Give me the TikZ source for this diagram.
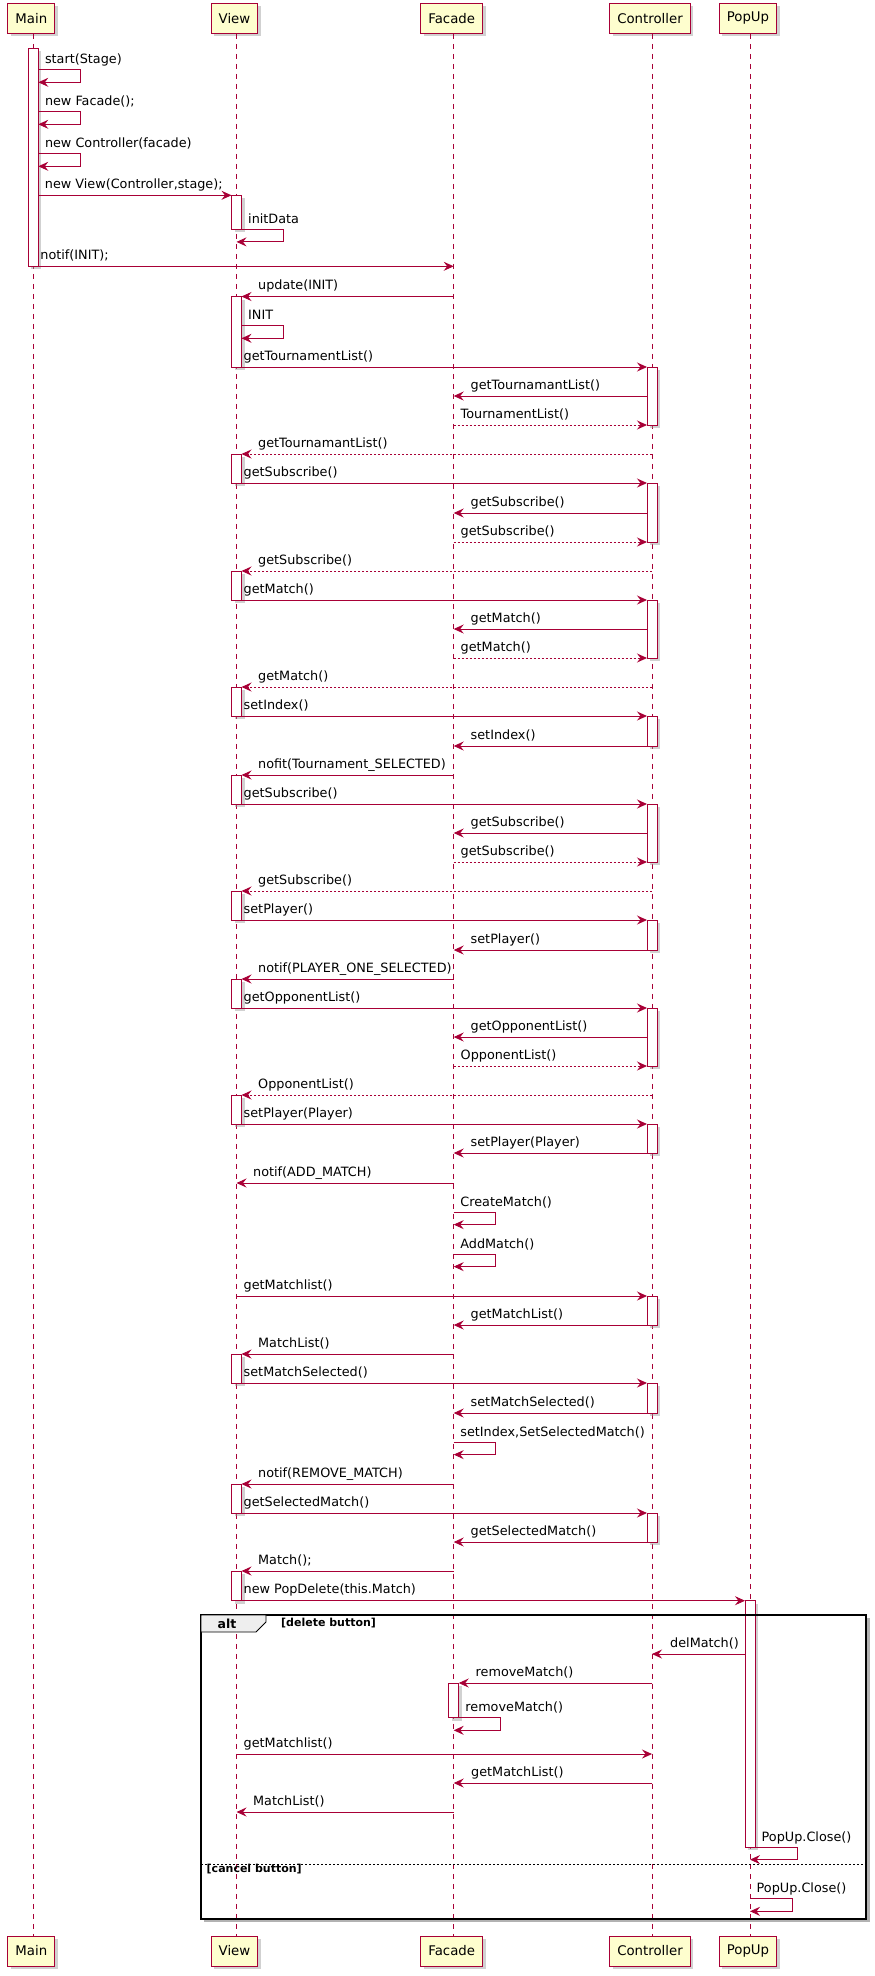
\documentclass[tikz,border=0pt]{standalone}
\usepackage{fontspec}
\setmainfont{DejaVu Sans}
\usetikzlibrary{arrows.meta,shadows}

\definecolor{umlred}{HTML}{A80036}
\definecolor{umlfill}{HTML}{FEFECE}
\definecolor{tabgrey}{HTML}{EEEEEE}

% message between two lifelines: [style]{name}{x from}{x to}{y}{label x}{label}
\newcommand{\callmsg}[7][call]{%
	\coordinate (#2s) at (#3,#5);
	\coordinate (#2e) at (#4,#5);
	\draw[#1] (#2s) -- (#2e);
	\node[lbl] (#2l) at (#6,#5-7) {#7};}
% message to itself: {name}{x out}{x back}{y}{label}
\newcommand{\selfmsg}[5]{%
	\coordinate (#1s) at (#2,#4);
	\coordinate (#1e) at (#3,#4+12.6);
	\draw[call] (#1s) -- ++(42,0) |- (#1e);
	\node[lbl] (#1l) at (#2+6.5,#4-6) {#5};}

\begin{document}
\begin{tikzpicture}[
			x=1pt, y=-1pt,
			partbox/.style={rectangle, draw=umlred, fill=umlfill, line width=1pt, minimum height=30pt, inner xsep=7.5pt, inner ysep=0pt, font=\fontsize{13.3}{16}\selectfont, drop shadow={shadow xshift=3pt, shadow yshift=-3pt, fill=black!40, opacity=0.45}},
			lifeline/.style={draw=umlred, line width=0.8pt, dash pattern=on 5pt off 5pt},
			actbar/.style={draw=umlred, fill=white, line width=0.9pt, drop shadow={shadow xshift=3pt, shadow yshift=-3pt, fill=black!40, opacity=0.45}},
			call/.style={draw=umlred, line width=0.9pt, -{Stealth[length=10pt, width=9pt, inset=3.5pt]}},
			reply/.style={call, dash pattern=on 2pt off 2pt},
			lbl/.style={anchor=base west, inner sep=0pt, font=\fontsize{12.8}{15}\selectfont},
			grouplbl/.style={inner sep=0pt, font=\bfseries\fontsize{11}{13}\selectfont},
			]
			\useasboundingbox (0,0) rectangle (875,1976);

			%Participants
			\node[partbox] (mainTop) at (31.3,18.3)  {Main};
			\node[partbox] (viewTop) at (234.5,18.3) {View};
			\node[partbox] (facTop)  at (451.7,18.3) {Facade};
			\node[partbox] (ctrlTop) at (650,18.3)   {Controller};
			\node[partbox] (popTop)  at (748,18.3)   {PopUp};

			\node[partbox] (mainBot) at (31.3,1951)  {Main};
			\node[partbox] (viewBot) at (234.5,1951) {View};
			\node[partbox] (facBot)  at (451.7,1951) {Facade};
			\node[partbox] (ctrlBot) at (650,1951)   {Controller};
			\node[partbox] (popBot)  at (748,1951)   {PopUp};

			%Lifelines
			\draw[lifeline] ([xshift=2pt]mainTop.south) -- ([xshift=2pt]mainBot.north);
			\draw[lifeline] ([xshift=2pt]viewTop.south) -- ([xshift=2pt]viewBot.north);
			\draw[lifeline] ([xshift=2pt]facTop.south)  -- ([xshift=2pt]facBot.north);
			\draw[lifeline] ([xshift=2pt]ctrlTop.south) -- ([xshift=2pt]ctrlBot.north);
			\draw[lifeline] ([xshift=2pt]popTop.south)  -- ([xshift=2pt]popBot.north);

			%Activations
			\draw[actbar] (28.3,48.3) rectangle (38.3,266.3);
			\foreach \a/\b in {195.3/229.3, 296.5/367, 454/483, 571/600, 687/716, 775/804, 891/920, 979/1008, 1095/1124, 1354/1383, 1484/1513, 1571/1600.7}
				\draw[actbar] (231.5,\a) rectangle (241.5,\b);
			\foreach \a/\b in {367/425, 483/542, 600/658, 716/746, 804/862, 920/950, 1008/1066, 1124/1153, 1296/1325, 1383/1413, 1513/1542}
				\draw[actbar] (647,\a) rectangle (657,\b);
			\draw[actbar] (448.7,1683) rectangle (458.7,1717.7);
			\draw[actbar] (745,1600.7) rectangle (755,1847);

			%Alt group
			\draw[black!30, line width=2.5pt] (204,1921) -- (868.5,1921) -- (868.5,1618);
			\draw[black, line width=1.5pt] (201,1615) rectangle (866,1919);
			\draw[black, fill=tabgrey, line width=0.8pt] (201,1615) -- (266,1615) -- (266,1622) -- (256,1632) -- (201,1632) -- cycle;
			\node[inner sep=0pt, font=\bfseries\fontsize{12.5}{14}\selectfont] (altlbl) at (227,1624) {alt};
			\node[grouplbl, anchor=base west] (delcase) at (281,1626.5) {[delete button]};
			\draw[black, line width=0.8pt, dash pattern=on 2pt off 2pt] (201,1864) -- (866,1864);
			\node[grouplbl, anchor=base west] (cancase) at (206.5,1872.5) {[cancel button]};

			%Messages
			\selfmsg{m1}{38.3}{38.3}{69.7}{start(Stage)}
			\selfmsg{m2}{38.3}{38.3}{111.7}{new Facade();}
			\selfmsg{m3}{38.3}{38.3}{153.7}{new Controller(facade)}
			\callmsg{m4}{38.3}{231.5}{195.3}{44.7}{new View(Controller,stage);}
			\selfmsg{m5}{241.5}{236.5}{229.3}{initData}
			\callmsg{m6}{38.3}{453.7}{266.3}{40.2}{notif(INIT);}
			\callmsg{m7}{453.7}{241.5}{296.5}{258}{update(INIT)}
			\selfmsg{m8}{241.5}{241.5}{325.7}{INIT}
			\callmsg{m9}{241.5}{647}{367}{243.5}{getTournamentList()}
			\callmsg{m10}{647}{453.7}{396}{470.5}{getTournamantList()}
			\callmsg[reply]{m11}{453.7}{647}{425}{460.5}{TournamentList()}
			\callmsg[reply]{m12}{652}{241.5}{454}{258}{getTournamantList()}
			\callmsg{m13}{241.5}{647}{483}{243.5}{getSubscribe()}
			\callmsg{m14}{647}{453.7}{513}{470.5}{getSubscribe()}
			\callmsg[reply]{m15}{453.7}{647}{542}{460.5}{getSubscribe()}
			\callmsg[reply]{m16}{652}{241.5}{571}{258}{getSubscribe()}
			\callmsg{m17}{241.5}{647}{600}{243.5}{getMatch()}
			\callmsg{m18}{647}{453.7}{629}{470.5}{getMatch()}
			\callmsg[reply]{m19}{453.7}{647}{658}{460.5}{getMatch()}
			\callmsg[reply]{m20}{652}{241.5}{687}{258}{getMatch()}
			\callmsg{m21}{241.5}{647}{716}{243.5}{setIndex()}
			\callmsg{m22}{647}{453.7}{746}{470.5}{setIndex()}
			\callmsg{m23}{453.7}{241.5}{775}{258}{nofit(Tournament\_SELECTED)}
			\callmsg{m24}{241.5}{647}{804}{243.5}{getSubscribe()}
			\callmsg{m25}{647}{453.7}{833}{470.5}{getSubscribe()}
			\callmsg[reply]{m26}{453.7}{647}{862}{460.5}{getSubscribe()}
			\callmsg[reply]{m27}{652}{241.5}{891}{258}{getSubscribe()}
			\callmsg{m28}{241.5}{647}{920}{243.5}{setPlayer()}
			\callmsg{m29}{647}{453.7}{950}{470.5}{setPlayer()}
			\callmsg{m30}{453.7}{241.5}{979}{258}{notif(PLAYER\_ONE\_SELECTED)}
			\callmsg{m31}{241.5}{647}{1008}{243.5}{getOpponentList()}
			\callmsg{m32}{647}{453.7}{1037}{470.5}{getOpponentList()}
			\callmsg[reply]{m33}{453.7}{647}{1066}{460.5}{OpponentList()}
			\callmsg[reply]{m34}{652}{241.5}{1095}{258}{OpponentList()}
			\callmsg{m35}{241.5}{647}{1124}{243.5}{setPlayer(Player)}
			\callmsg{m36}{647}{453.7}{1153}{470.5}{setPlayer(Player)}
			\callmsg{m37}{453.7}{236.5}{1183}{253}{notif(ADD\_MATCH)}
			\selfmsg{m38}{453.7}{453.7}{1212}{CreateMatch()}
			\selfmsg{m39}{453.7}{453.7}{1254}{AddMatch()}
			\callmsg{m40}{236.5}{647}{1296}{243.5}{getMatchlist()}
			\callmsg{m41}{647}{453.7}{1325}{470.5}{getMatchList()}
			\callmsg{m42}{453.7}{241.5}{1354}{258}{MatchList()}
			\callmsg{m43}{241.5}{647}{1383}{243.5}{setMatchSelected()}
			\callmsg{m44}{647}{453.7}{1413}{470.5}{setMatchSelected()}
			\selfmsg{m45}{453.7}{453.7}{1442}{setIndex,SetSelectedMatch()}
			\callmsg{m46}{453.7}{241.5}{1484}{258}{notif(REMOVE\_MATCH)}
			\callmsg{m47}{241.5}{647}{1513}{243.5}{getSelectedMatch()}
			\callmsg{m48}{647}{453.7}{1542}{470.5}{getSelectedMatch()}
			\callmsg{m49}{453.7}{241.5}{1571}{258}{Match();}
			\callmsg{m50}{241.5}{745}{1600.7}{243.5}{new PopDelete(this.Match)}
			\callmsg{m51}{745}{652}{1654}{670}{delMatch()}
			\callmsg{m52}{652}{458.7}{1683}{475.5}{removeMatch()}
			\selfmsg{m53}{458.7}{453.7}{1717.7}{removeMatch()}
			\callmsg{m54}{236.5}{652}{1754}{243.5}{getMatchlist()}
			\callmsg{m55}{652}{453.7}{1783}{471}{getMatchList()}
			\callmsg{m56}{453.7}{236.5}{1812}{253}{MatchList()}
			\selfmsg{m57}{755}{750}{1847}{PopUp.Close()}
			\selfmsg{m58}{750}{750}{1898.7}{PopUp.Close()}
		\end{tikzpicture}
\end{document}
